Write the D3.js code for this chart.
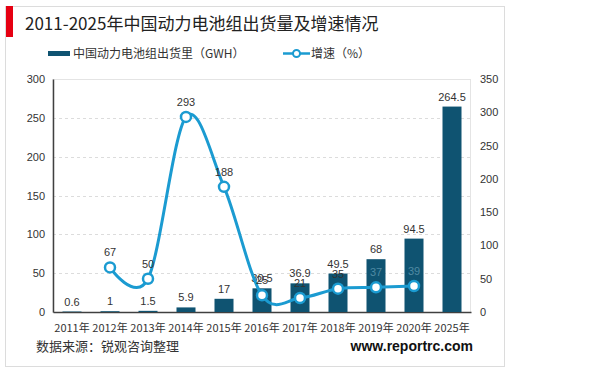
<!DOCTYPE html>
<html>
<head>
<meta charset="utf-8">
<script src="https://cdn.jsdelivr.net/npm/d3@7/dist/d3.min.js"></script>
<style>
    body { margin: 0; background: #fff; }
    svg { font-family: "Microsoft YaHei", "Noto Sans CJK SC", sans-serif; }
</style>
</head>
<body>
<div id="chart"></div>
<script>
const years = ['2011年', '2012年', '2013年', '2014年', '2015年', '2016年', '2017年', '2018年', '2019年', '2020年', '2025年'];
const shipments = [0.6, 1, 1.5, 5.9, 17, 30.5, 36.9, 49.5, 68, 94.5, 264.5];
const growth = [null, 67, 50, 293, 188, 25, 21, 35, 37, 39, null];
const leftTicks = [0, 50, 100, 150, 200, 250, 300];
const rightTicks = [0, 50, 100, 150, 200, 250, 300, 350];

const barColor = '#0f5371';
const lineColor = '#1b9bd1';

const width = 600, height = 372;
const margin = { top: 79, right: 129, bottom: 60, left: 53 };
const plotW = width - margin.left - margin.right;
const plotH = height - margin.top - margin.bottom;

const svg = d3.select('#chart').append('svg')
    .attr('width', width)
    .attr('height', height);

// frame and title
svg.append('rect')
    .attr('x', 5.5).attr('y', 6.5)
    .attr('width', 499).attr('height', 360)
    .attr('fill', '#fff')
    .attr('stroke', '#dcdcdc');

svg.append('rect')
    .attr('x', 6).attr('y', 6)
    .attr('width', 7).attr('height', 31)
    .attr('fill', '#e60012');

svg.append('text')
    .attr('x', 25).attr('y', 30)
    .attr('font-size', 17)
    .attr('fill', '#222')
    .text('2011-2025年中国动力电池组出货量及增速情况');

// legend
const legend = svg.append('g').attr('font-size', 12).attr('fill', '#333');
legend.append('rect')
    .attr('x', 48).attr('y', 51).attr('width', 22).attr('height', 5)
    .attr('fill', barColor);
legend.append('text')
    .attr('x', 73).attr('y', 58)
    .text('中国动力电池组出货里（GWH）');
legend.append('line')
    .attr('x1', 283).attr('x2', 310).attr('y1', 53.5).attr('y2', 53.5)
    .attr('stroke', lineColor).attr('stroke-width', 2.5);
legend.append('circle')
    .attr('cx', 296.5).attr('cy', 53.5).attr('r', 3.5)
    .attr('fill', '#fff').attr('stroke', lineColor).attr('stroke-width', 2);
legend.append('text')
    .attr('x', 311).attr('y', 58)
    .text('增速（%）');

const g = svg.append('g')
    .attr('transform', `translate(${margin.left}, ${margin.top})`);

const x = d3.scaleBand()
    .domain(years)
    .range([0, plotW])
    .paddingInner(0.5)
    .paddingOuter(0.25);

const yLeft = d3.scaleLinear().domain([0, 300]).range([plotH, 0]);
const yRight = d3.scaleLinear().domain([0, 350]).range([plotH, 0]);

// plot border and grid
g.append('rect')
    .attr('x', 0).attr('y', 0.5)
    .attr('width', plotW - 0.5).attr('height', plotH)
    .attr('fill', 'none')
    .attr('stroke', '#e4e4e4');

g.selectAll('.grid')
    .data(leftTicks.filter(d => d > 0 && d < 300))
    .enter().append('line')
    .attr('class', 'grid')
    .attr('x1', 0).attr('x2', plotW)
    .attr('y1', d => Math.round(yLeft(d)) + 0.5)
    .attr('y2', d => Math.round(yLeft(d)) + 0.5)
    .attr('stroke', '#dcdcdc')
    .attr('stroke-dasharray', '3,3');

// axes
const leftAxis = g.append('g')
    .call(d3.axisLeft(yLeft).tickValues(leftTicks).tickSize(0).tickPadding(8));
leftAxis.select('.domain').attr('stroke', '#404040').attr('stroke-width', 1.5);

const rightAxis = g.append('g')
    .attr('transform', `translate(${plotW}, 0)`)
    .call(d3.axisRight(yRight).tickValues(rightTicks).tickSize(0).tickPadding(9));
rightAxis.select('.domain').remove();

const bottomAxis = g.append('g')
    .attr('transform', `translate(0, ${plotH})`)
    .call(d3.axisBottom(x).tickSize(0).tickPadding(12));
bottomAxis.select('.domain').attr('stroke', '#404040').attr('stroke-width', 1.5);

svg.selectAll('.tick text')
    .attr('font-size', 11)
    .attr('fill', '#333')
    .attr('font-family', 'Arial, "Liberation Sans", "Noto Sans CJK SC", sans-serif');
bottomAxis.selectAll('.tick text').attr('font-family', '"Noto Sans CJK SC", sans-serif').attr('font-size', 11);

// bars
const barData = years.map((year, i) => ({ year, value: shipments[i] }));

g.selectAll('.bar')
    .data(barData)
    .enter().append('rect')
    .attr('class', 'bar')
    .attr('x', d => x(d.year))
    .attr('y', d => yLeft(d.value))
    .attr('width', x.bandwidth())
    .attr('height', d => plotH - yLeft(d.value))
    .attr('fill', barColor);

g.selectAll('.bar-label')
    .data(barData)
    .enter().append('text')
    .attr('class', 'bar-label')
    .attr('x', d => x(d.year) + x.bandwidth() / 2)
    .attr('y', d => yLeft(d.value) - 6)
    .attr('text-anchor', 'middle')
    .attr('font-size', 11)
    .attr('font-family', 'Arial, "Liberation Sans", sans-serif')
    .attr('fill', '#333')
    .text(d => d.value);

// growth line
const lineData = years.map((year, i) => ({ year, value: growth[i] }))
    .filter(d => d.value !== null);

const line = d3.line()
    .x(d => x(d.year) + x.bandwidth() / 2)
    .y(d => yRight(d.value))
    .curve(d3.curveCardinal.tension(0));

g.append('path')
    .datum(lineData)
    .attr('fill', 'none')
    .attr('stroke', lineColor)
    .attr('stroke-width', 3)
    .attr('d', line);

g.selectAll('.dot')
    .data(lineData)
    .enter().append('circle')
    .attr('class', 'dot')
    .attr('cx', d => x(d.year) + x.bandwidth() / 2)
    .attr('cy', d => yRight(d.value))
    .attr('r', 5)
    .attr('fill', '#fff')
    .attr('stroke', lineColor)
    .attr('stroke-width', 2.5);

// labels that sit well inside a bar are drawn in a lighter tone, as in the source
const onBar = d => {
    const i = years.indexOf(d.year);
    return yRight(d.value) - 18 > yLeft(shipments[i]);
};

g.selectAll('.line-label')
    .data(lineData)
    .enter().append('text')
    .attr('class', 'line-label')
    .attr('x', d => x(d.year) + x.bandwidth() / 2)
    .attr('y', d => yRight(d.value) - 11)
    .attr('text-anchor', 'middle')
    .attr('font-size', 11)
    .attr('font-family', 'Arial, "Liberation Sans", sans-serif')
    .attr('fill', d => onBar(d) ? '#4f8aa3' : '#333')
    .text(d => d.value);

// footer
svg.append('text')
    .attr('x', 36).attr('y', 351)
    .attr('font-size', 13)
    .attr('fill', '#333')
    .text('数据来源：锐观咨询整理');

svg.append('text')
    .attr('x', 473).attr('y', 351)
    .attr('text-anchor', 'end')
    .attr('font-size', 14)
    .attr('font-weight', 'bold')
    .attr('font-family', 'Arial, "Liberation Sans", sans-serif')
    .attr('fill', '#111')
    .text('www.reportrc.com');
</script>
</body>
</html>
